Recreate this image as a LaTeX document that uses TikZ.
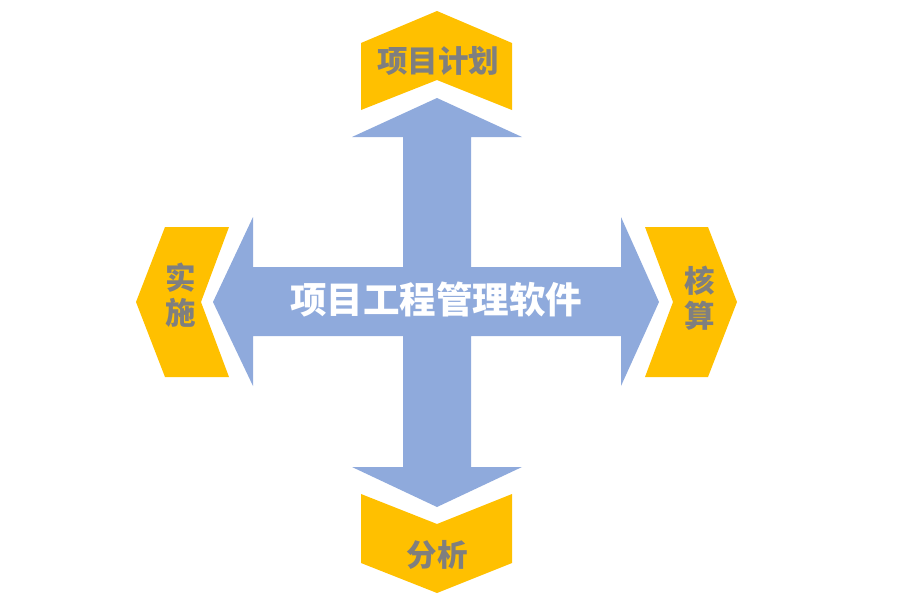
\documentclass[tikz,border=0pt]{standalone}
\usepackage{fontspec}
\newfontfamily\cjk{Noto Sans CJK SC}
\definecolor{arrowblue}{HTML}{8FAADC}
\definecolor{chevyellow}{HTML}{FFC000}
\definecolor{labelgray}{HTML}{7F7F7F}
\begin{document}
\begin{tikzpicture}[x=1pt,y=-1pt,
  arrowfill/.style={fill=arrowblue,draw=none},
  chevfill/.style={fill=chevyellow,draw=none},
  lab/.style={text=labelgray,font=\cjk\bfseries\fontsize{30.5}{35}\selectfont,align=center,inner sep=0pt},
  maintext/.style={text=white,font=\cjk\bfseries\fontsize{36.5}{40}\selectfont,inner sep=0pt}]
\useasboundingbox (0,0) rectangle (900,600);
% four-way arrow
\path[arrowfill] (437,98) -- (522,137) -- (471,137) -- (471,267) -- (621,267) -- (621,217)
  -- (659,302) -- (621,386) -- (621,336) -- (471,336) -- (471,467) -- (522,467)
  -- (437,507) -- (352,467) -- (403,467) -- (403,336) -- (253,336) -- (253,386)
  -- (213,302) -- (253,217) -- (253,267) -- (403,267) -- (403,137) -- (352,137) -- cycle;
% chevrons
\path[chevfill] (437,11) -- (512,43) -- (512,110) -- (437,80) -- (361,110) -- (361,43) -- cycle;
\path[chevfill] (361,494) -- (437,524) -- (512,494) -- (512,563) -- (437,593) -- (361,563) -- cycle;
\path[chevfill] (165,227) -- (229,227) -- (201,302) -- (229,377) -- (165,377) -- (136,302) -- cycle;
\path[chevfill] (645,227) -- (708,227) -- (737,302) -- (708,377) -- (645,377) -- (673,302) -- cycle;
% texts
\node[maintext] (center) at (436,300) {项目工程管理软件};
\node[lab] (plan) at (438,61) {项目计划};
\node[lab] (impl) at (181,295) {实\\施};
\node[lab] (acct) at (700,298) {核\\算};
\node[lab] (anal) at (437,555) {分析};
\end{tikzpicture}
\end{document}
